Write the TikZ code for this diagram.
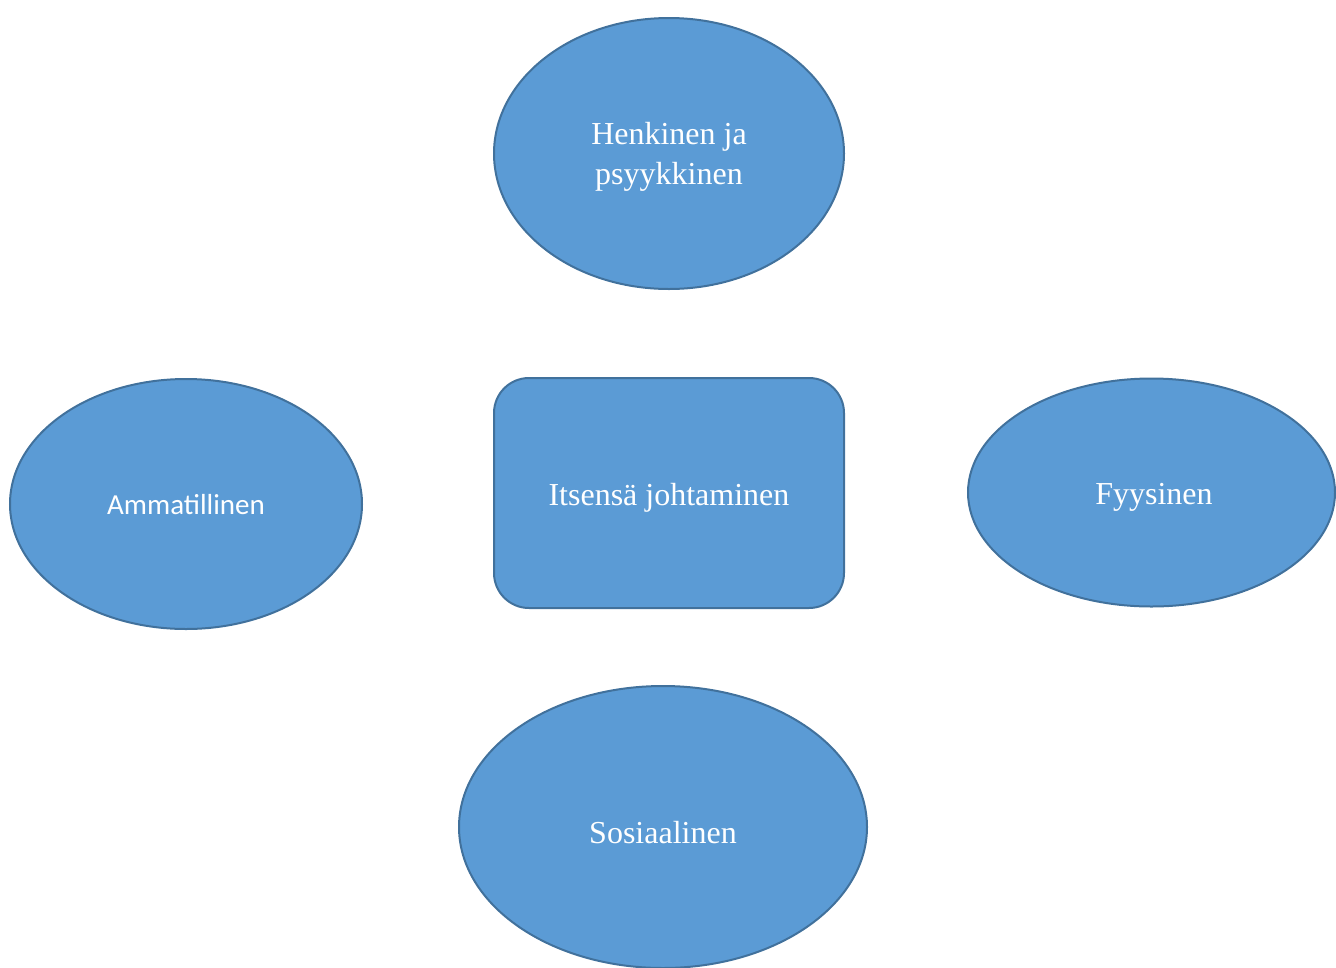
\documentclass[tikz,border=0pt]{standalone}
\usepackage{fontspec}
\setmainfont{Liberation Serif}
\newfontfamily\calibrifont{Carlito}
\usetikzlibrary{shapes.geometric}
\definecolor{shapefill}{HTML}{5B9BD5}
\definecolor{shapeline}{HTML}{41719C}
\begin{document}
\begin{tikzpicture}[x=1pt,y=-1pt,
  blob/.style={ellipse, fill=shapefill, draw=shapeline, line width=2pt, inner sep=0pt},
  centerbox/.style={rectangle, rounded corners=35pt, fill=shapefill, draw=shapeline, line width=2pt, inner sep=0pt},
  label/.style={text=white, align=center, inner sep=0pt, font=\fontsize{32}{40}\selectfont}]
\useasboundingbox (0,0) rectangle (1336,967);
\begin{scope}
\clip (0,0) rectangle (1336,967);
\node[blob, minimum width=350pt, minimum height=271pt] (top) at (669,153.5) {};
\node[blob, minimum width=352pt, minimum height=250pt] (left) at (186,504) {};
\node[blob, minimum width=367pt, minimum height=228pt] (right) at (1151.5,492.5) {};
\node[blob, minimum width=408pt, minimum height=282pt] (bottom) at (663,827) {};
\node[centerbox, minimum width=350pt, minimum height=230pt] (center) at (669,493) {};
\end{scope}
\node[label] (toptext) at (669,157) {Henkinen ja\\psyykkinen};
\node[label, font=\calibrifont\fontsize{29}{34}\selectfont] (lefttext) at (186,505) {Ammatillinen};
\node[label] (righttext) at (1154,497) {Fyysinen};
\node[label] (bottomtext) at (663,833) {Sosiaalinen};
\node[label] (centertext) at (669,498) {Itsensä johtaminen};
\end{tikzpicture}
\end{document}
